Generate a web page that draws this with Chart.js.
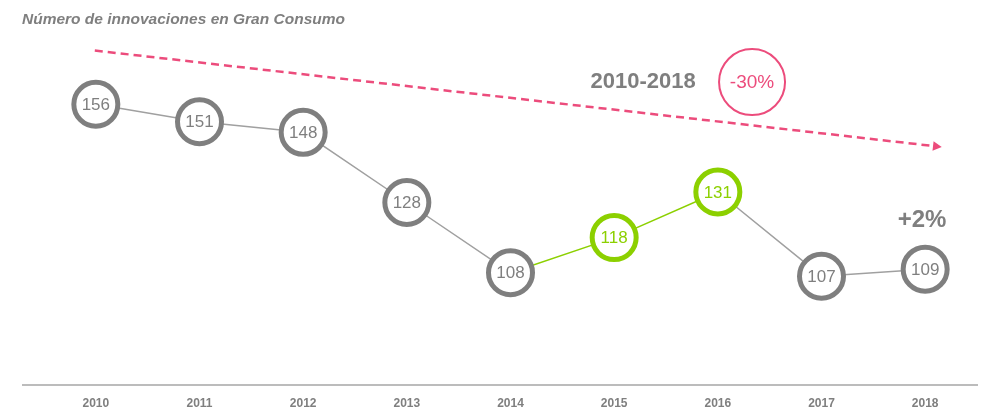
<!DOCTYPE html>
<html>
<head>
<meta charset="utf-8">
<script src="https://cdn.jsdelivr.net/npm/chart.js@4/dist/chart.umd.min.js"></script>
<style>
  html, body { margin: 0; padding: 0; background: #fff; }
  #wrap { width: 985px; height: 411px; position: relative; }
</style>
</head>
<body>
<div id="wrap"><canvas id="innovChart"></canvas></div>
<script>
// Data
const years = ['2010', '2011', '2012', '2013', '2014', '2015', '2016', '2017', '2018'];
const innovations = [156, 151, 148, 128, 108, 118, 131, 107, 109];
const highlighted = [false, false, false, false, false, true, true, false, false];
const chartTitle = 'Número de innovaciones en Gran Consumo';
const periodLabel = '2010-2018';
const periodChange = '-30%';
const lastChange = '+2%';

const GREY = '#7f7f7f';
const LINE_GREY = '#a0a0a0';
const GREEN = '#8cd000';
const PINK = '#ec4c7c';

document.addEventListener('DOMContentLoaded', function() {
    const ctx = document.getElementById('innovChart').getContext('2d');

    // draws title, trend arrow, callouts and the value inside each circle
    const annotations = {
        id: 'annotations',
        afterDraw(chart) {
            const c = chart.ctx;
            const x = chart.scales.x;
            const y = chart.scales.y;
            c.save();

            // base line
            c.strokeStyle = '#a6a6a6';
            c.lineWidth = 1.5;
            c.beginPath();
            c.moveTo(22, chart.chartArea.bottom);
            c.lineTo(chart.width - 7, chart.chartArea.bottom);
            c.stroke();

            // title
            c.fillStyle = '#7f7f7f';
            c.font = 'italic bold 15.5px "Liberation Sans", Arial, sans-serif';
            c.textBaseline = 'middle';
            c.textAlign = 'left';
            c.fillText(chartTitle, 22, 20);

            // dashed trend arrow
            const x0 = x.getPixelForValue(-0.01), y0 = y.getPixelForValue(171.3);
            const x1 = x.getPixelForValue(8.16), y1 = y.getPixelForValue(143.8);
            c.strokeStyle = PINK;
            c.lineWidth = 2.5;
            c.setLineDash([8, 5]);
            c.beginPath();
            c.moveTo(x0, y0);
            c.lineTo(x1 - 8, y1 - 1);
            c.stroke();
            c.setLineDash([]);
            const ang = Math.atan2(y1 - y0, x1 - x0);
            c.fillStyle = PINK;
            c.beginPath();
            c.moveTo(x1, y1);
            c.lineTo(x1 - 10 * Math.cos(ang - 0.5), y1 - 10 * Math.sin(ang - 0.5));
            c.lineTo(x1 - 10 * Math.cos(ang + 0.5), y1 - 10 * Math.sin(ang + 0.5));
            c.closePath();
            c.fill();

            // period callout
            const cy = y.getPixelForValue(162.3);
            c.fillStyle = '#7f7f7f';
            c.font = 'bold 22px "Liberation Sans", Arial, sans-serif';
            c.textAlign = 'center';
            c.fillText(periodLabel, x.getPixelForValue(5.28), cy);
            const bx = x.getPixelForValue(6.33);
            c.strokeStyle = PINK;
            c.lineWidth = 2;
            c.beginPath();
            c.arc(bx, cy, 33, 0, Math.PI * 2);
            c.stroke();
            c.fillStyle = PINK;
            c.font = '19px "Liberation Sans", Arial, sans-serif';
            c.fillText(periodChange, bx, cy + 1);

            // last year change
            c.fillStyle = '#7f7f7f';
            c.font = 'bold 24px "Liberation Sans", Arial, sans-serif';
            c.fillText(lastChange, x.getPixelForValue(7.97), y.getPixelForValue(123));

            // values inside circles
            const meta = chart.getDatasetMeta(0);
            c.font = '17px "Liberation Sans", Arial, sans-serif';
            meta.data.forEach(function(pt, i) {
                c.fillStyle = highlighted[i] ? GREEN : GREY;
                c.fillText(String(innovations[i]), pt.x, pt.y + 1);
            });
            c.restore();
        }
    };

    new Chart(ctx, {
        type: 'line',
        data: {
            labels: years,
            datasets: [{
                data: innovations,
                borderColor: LINE_GREY,
                borderWidth: 1.5,
                tension: 0,
                clip: false,
                segment: {
                    borderColor: function(s) {
                        return highlighted[s.p1DataIndex] ? GREEN : LINE_GREY;
                    }
                },
                pointRadius: 22,
                pointHoverRadius: 22,
                pointBorderWidth: 5,
                pointHoverBorderWidth: 5,
                pointBackgroundColor: '#ffffff',
                pointBorderColor: highlighted.map(function(h) { return h ? GREEN : GREY; })
            }]
        },
        options: {
            responsive: true,
            maintainAspectRatio: false,
            animation: false,
            events: [],
            layout: {
                autoPadding: false,
                padding: { top: 20, left: 44, right: 8, bottom: 0 }
            },
            plugins: {
                legend: { display: false },
                tooltip: { enabled: false }
            },
            scales: {
                x: {
                    offset: true,
                    grid: { display: false },
                    border: { display: false },
                    afterFit: function(scale) { scale.height = 26; },
                    ticks: {
                        color: '#7f7f7f',
                        padding: 3,
                        maxRotation: 0,
                        font: { family: '"Liberation Sans", Arial, sans-serif', size: 12, weight: 'bold' }
                    }
                },
                y: {
                    display: false,
                    min: 76,
                    max: 180
                }
            }
        },
        plugins: [annotations]
    });
});
</script>
</body>
</html>
